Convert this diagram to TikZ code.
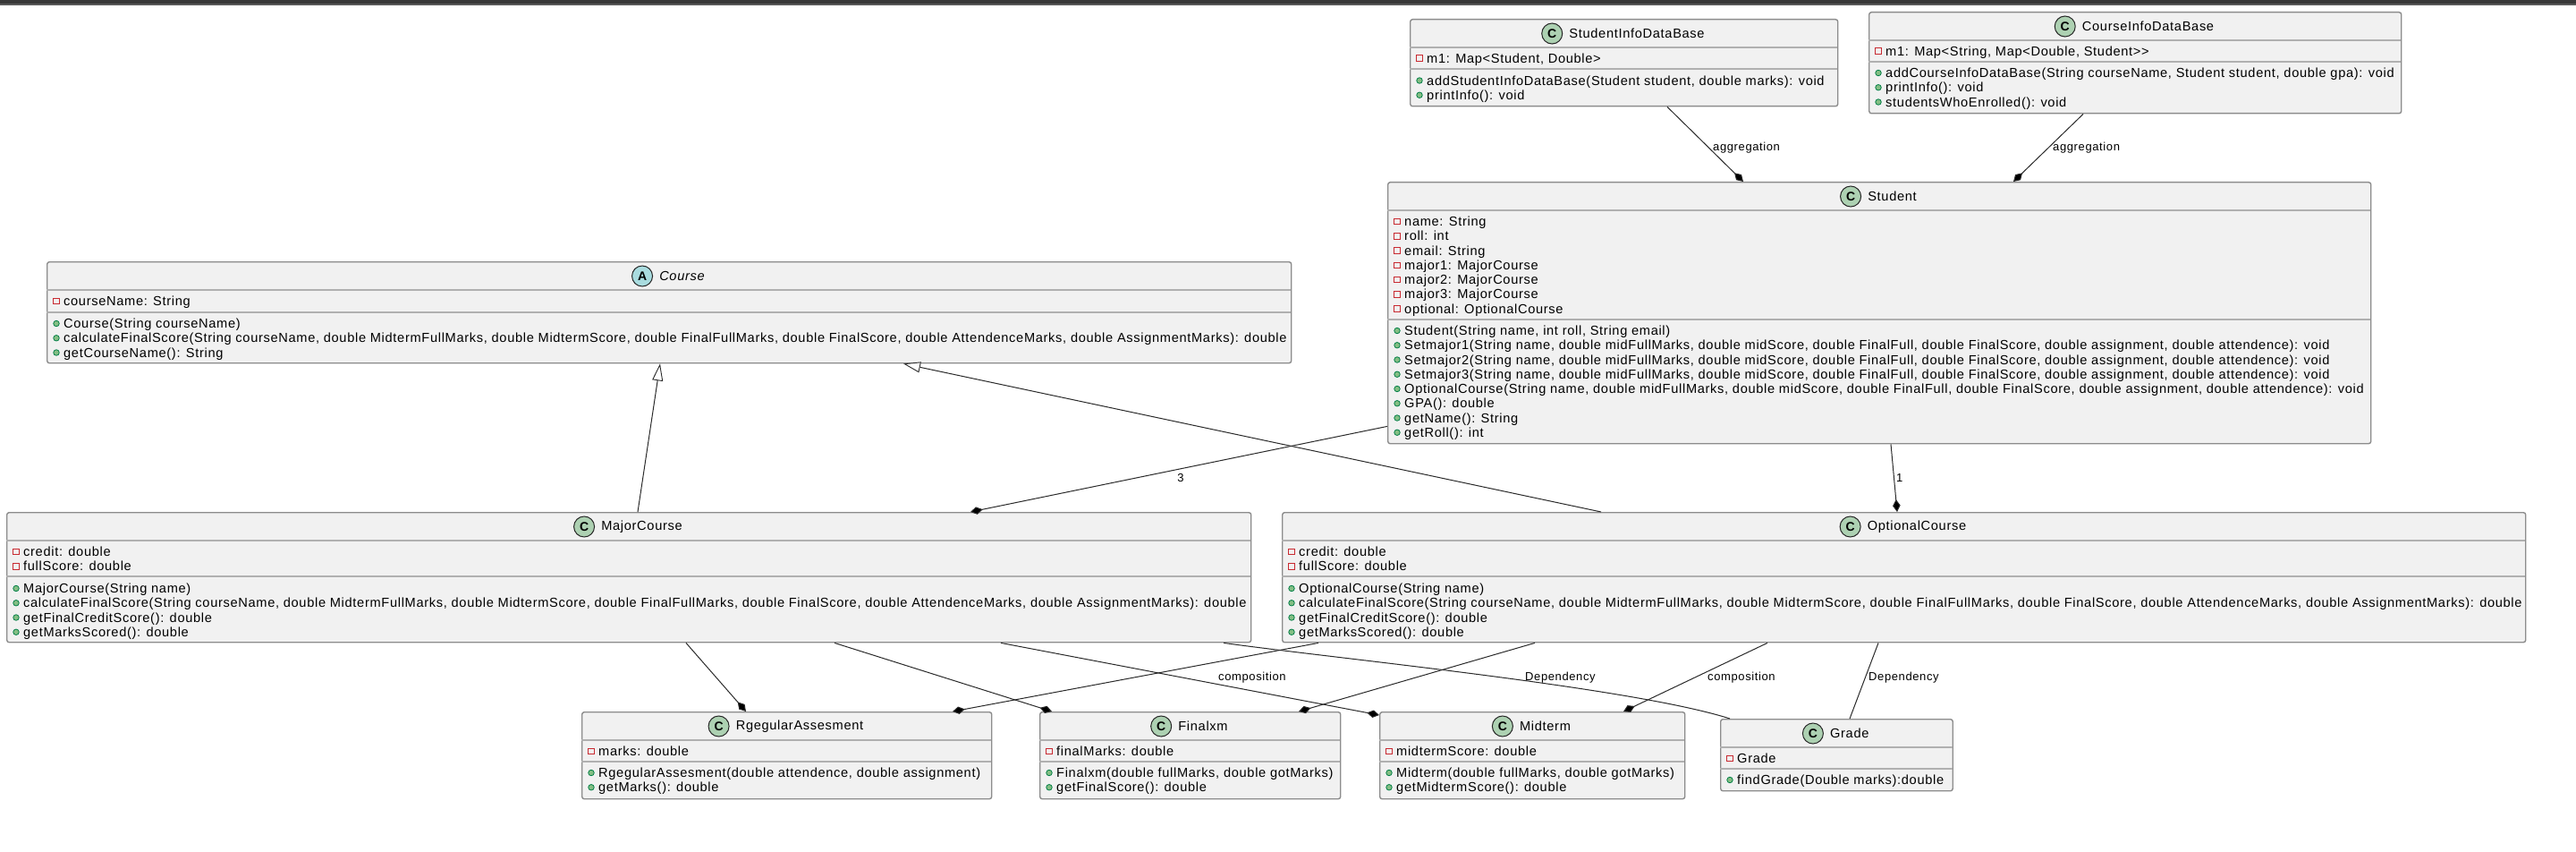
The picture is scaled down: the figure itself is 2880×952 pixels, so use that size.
\documentclass[tikz,border=0pt]{standalone}
\usepackage{fontspec}
\setmainfont[LetterSpace=4.7,Ligatures=NoCommon]{Liberation Sans}
\usetikzlibrary{arrows.meta,positioning}
\definecolor{boxfill}{HTML}{F1F1F1}
\definecolor{boxline}{HTML}{8C8C8C}
\definecolor{sepline}{HTML}{B0B0B0}
\definecolor{connline}{HTML}{2A2A2A}
\definecolor{classicon}{HTML}{ADD1B2}
\definecolor{abstracticon}{HTML}{A9DCDF}
\definecolor{privred}{HTML}{C82930}
\definecolor{pubfill}{HTML}{84BE84}
\definecolor{publine}{HTML}{038048}
\tikzset{
  x=1pt,y=-1pt,
  every node/.style={font=\fontsize{14.6}{16}\selectfont,text=black},
  framebox/.style={rectangle,draw=boxline,fill=boxfill,line width=1.4pt,rounded corners=2.5pt,inner sep=0pt,anchor=north west},
  headsep/.style={draw=sepline,line width=2pt},
  bodysep/.style={draw=sepline,line width=1.4pt},
  rowtext/.style={anchor=base west,inner sep=0pt},
  privmark/.style={rectangle,draw=privred,fill=none,line width=1pt,minimum size=6.5pt,inner sep=0pt},
  pubmark/.style={circle,draw=publine,fill=pubfill,line width=.8pt,minimum size=6.5pt,inner sep=0pt},
  classmark/.style={circle,draw=black!85,line width=1pt,minimum size=23pt,inner sep=0pt,font=\fontsize{14}{14}\bfseries\selectfont},
  titletext/.style={inner sep=0pt},
  rel/.style={draw=connline,line width=1pt},
  compo/.style={rel,-{Diamond[length=14pt,width=8.5pt,fill=black]}},
  inherit/.style={rel,-{Triangle[open,length=19pt,width=12pt,fill=white,line width=.9pt]}},
  rellabel/.style={anchor=west,inner sep=0pt,font=\fontsize{13}{14}\selectfont},
}
\newcounter{rownum}
% frame: name, x1, y1, x2, y2, header separator y, body separator y
\newcommand{\classframe}[7]{%
  \node[framebox,minimum width=#4pt-#2pt,minimum height=#5pt-#3pt] (#1) at (#2,#3) {};
  \draw[headsep] (#2,#6) -- (#4,#6);
  \draw[bodysep] (#2,#7) -- (#4,#7);
  \def\rowx{#2}%
  \def\midx{(#2+#4)/2+15}%
  \def\midy{(#3+#6)/2+.5}%
  \def\curname{#1}%
}
\newcommand{\classtitle}[3]{%
  \pgfmathsetmacro{\titlex}{\midx}\pgfmathsetmacro{\titley}{\midy}%
  \node[titletext] (\curname title) at (\titlex,\titley) {#3};
  \node[classmark,fill=#2,left=7pt of \curname title] (\curname icon) {#1};
}
\newcommand{\startrows}[1]{\pgfmathsetmacro{\rowy}{#1}}
\newcommand{\rowitem}[3]{%
  \stepcounter{rownum}%
  \pgfmathsetmacro{\mx}{\rowx+11}\pgfmathsetmacro{\tx}{\rowx+19}\pgfmathsetmacro{\by}{\rowy+5.2}%
  \node[#1] (m\therownum) at (\mx,\rowy) {};
  \node[rowtext] (t\therownum) at (\tx,\by) {#3};
  \pgfmathsetmacro{\rowy}{\rowy+16.25}%
}
\newcommand{\priv}[1]{\rowitem{privmark}{}{#1}}
\newcommand{\pub}[1]{\rowitem{pubmark}{}{#1}}
\begin{document}
\begin{tikzpicture}
\useasboundingbox (0,0) rectangle (2880,952);
\fill[white] (0,0) rectangle (2880,952);
\fill[black!78] (0,0) rectangle (2880,4);
\fill[black!65] (0,4) rectangle (2880,6);

\classframe{sdb}{1576}{21}{2054}{118}{53}{77}
\classtitle{C}{classicon}{StudentInfoDataBase}
\startrows{65}\priv{m1: Map<Student, Double>}
\startrows{90}\pub{addStudentInfoDataBase(Student student, double marks): void}\pub{printInfo(): void}

\classframe{cdb}{2089}{13}{2684}{126}{45}{69}
\classtitle{C}{classicon}{CourseInfoDataBase}
\startrows{57}\priv{m1: Map<String, Map<Double, Student>{}>}
\startrows{81.5}\pub{addCourseInfoDataBase(String courseName, Student student, double gpa): void}\pub{printInfo(): void}\pub{studentsWhoEnrolled(): void}

\classframe{student}{1551}{203}{2650}{495}{235}{357}
\classtitle{C}{classicon}{Student}
\startrows{247.5}
\priv{name: String}\priv{roll: int}\priv{email: String}\priv{major1: MajorCourse}\priv{major2: MajorCourse}\priv{major3: MajorCourse}\priv{optional: OptionalCourse}
\startrows{369.5}
\pub{Student(String name, int roll, String email)}
\pub{Setmajor1(String name, double midFullMarks, double midScore, double FinalFull, double FinalScore, double assignment, double attendence): void}
\pub{Setmajor2(String name, double midFullMarks, double midScore, double FinalFull, double FinalScore, double assignment, double attendence): void}
\pub{Setmajor3(String name, double midFullMarks, double midScore, double FinalFull, double FinalScore, double assignment, double attendence): void}
\pub{OptionalCourse(String name, double midFullMarks, double midScore, double FinalFull, double FinalScore, double assignment, double attendence): void}
\pub{GPA(): double}\pub{getName(): String}\pub{getRoll(): int}

\classframe{course}{52}{292}{1443}{405}{324}{349}
\classtitle{A}{abstracticon}{\itshape Course}
\startrows{336.5}\priv{courseName: String}
\startrows{361.5}
\pub{Course(String courseName)}
\pub{calculateFinalScore(String courseName, double MidtermFullMarks, double MidtermScore, double FinalFullMarks, double FinalScore, double AttendenceMarks, double AssignmentMarks): double}
\pub{getCourseName(): String}

\classframe{major}{7}{572}{1398}{717}{604}{644}
\classtitle{C}{classicon}{MajorCourse}
\startrows{616.5}\priv{credit: double}\priv{fullScore: double}
\startrows{657.5}
\pub{MajorCourse(String name)}
\pub{calculateFinalScore(String courseName, double MidtermFullMarks, double MidtermScore, double FinalFullMarks, double FinalScore, double AttendenceMarks, double AssignmentMarks): double}
\pub{getFinalCreditScore(): double}\pub{getMarksScored(): double}

\classframe{optional}{1433}{572}{2823}{717}{604}{644}
\classtitle{C}{classicon}{OptionalCourse}
\startrows{616.5}\priv{credit: double}\priv{fullScore: double}
\startrows{657.5}
\pub{OptionalCourse(String name)}
\pub{calculateFinalScore(String courseName, double MidtermFullMarks, double MidtermScore, double FinalFullMarks, double FinalScore, double AttendenceMarks, double AssignmentMarks): double}
\pub{getFinalCreditScore(): double}\pub{getMarksScored(): double}

\classframe{regular}{650}{795}{1108}{892}{827}{851}
\classtitle{C}{classicon}{RgegularAssesment}
\startrows{839.5}\priv{marks: double}
\startrows{863.5}\pub{RgegularAssesment(double attendence, double assignment)}\pub{getMarks(): double}

\classframe{finalx}{1162}{795}{1498}{892}{827}{851}
\classtitle{C}{classicon}{Finalxm}
\startrows{839.5}\priv{finalMarks: double}
\startrows{863.5}\pub{Finalxm(double fullMarks, double gotMarks)}\pub{getFinalScore(): double}

\classframe{midterm}{1542}{795}{1883}{892}{827}{851}
\classtitle{C}{classicon}{Midterm}
\startrows{839.5}\priv{midtermScore: double}
\startrows{863.5}\pub{Midterm(double fullMarks, double gotMarks)}\pub{getMidtermScore(): double}

\classframe{grade}{1923}{803}{2182.5}{883}{835}{859}
\classtitle{C}{classicon}{Grade}
\startrows{847.5}\priv{Grade}
\startrows{871.5}\pub{findGrade(Double marks):double}

% connectors
\draw[compo] ([xshift=288pt]sdb.south west) -- ([xshift=398pt]student.north west);
\draw[compo] ([xshift=240pt]cdb.south west) -- ([xshift=700pt]student.north west);
\draw[compo] ([xshift=563pt]student.south west) -- ([xshift=688pt]optional.north west);
\draw[compo] ([yshift=20pt]student.south west) -- ([xshift=1078pt]major.north west);
\draw[inherit] ([xshift=706pt]major.north west) -- ([xshift=686pt]course.south west);
\draw[inherit] ([xshift=357pt]optional.north west) -- ([xshift=958pt]course.south west);
\draw[compo] ([xshift=760pt]major.south west) -- ([xshift=184pt]regular.north west);
\draw[compo] ([xshift=926pt]major.south west) -- ([xshift=14pt]finalx.north west);
\draw[compo] ([xshift=1112pt]major.south west) -- ([yshift=-4pt]midterm.north west);
\draw[rel] ([xshift=1361pt]major.south west) .. controls +(130,18) and +(-110,-35) .. ([xshift=11pt]grade.north west);
\draw[compo] ([xshift=41pt]optional.south west) -- ([xshift=415pt]regular.north west);
\draw[compo] ([xshift=283pt]optional.south west) -- ([xshift=290pt]finalx.north west);
\draw[compo] ([xshift=543pt]optional.south west) -- ([xshift=273pt]midterm.north west);
\draw[rel] ([xshift=667pt]optional.south west) -- ([xshift=145pt]grade.north west);
% connector labels
\node[rellabel] (la1) at (1915,165) {aggregation};
\node[rellabel] (la2) at (2295,165) {aggregation};
\node[rellabel] (la3) at (2120,534) {1};
\node[rellabel,anchor=center] (la4) at (1320,534) {3};
\node[rellabel] (lc1) at (1362,757) {composition};
\node[rellabel] (ld1) at (1705,757) {Dependency};
\node[rellabel] (lc2) at (1909,757) {composition};
\node[rellabel] (ld2) at (2089,757) {Dependency};
\end{tikzpicture}
\end{document}
